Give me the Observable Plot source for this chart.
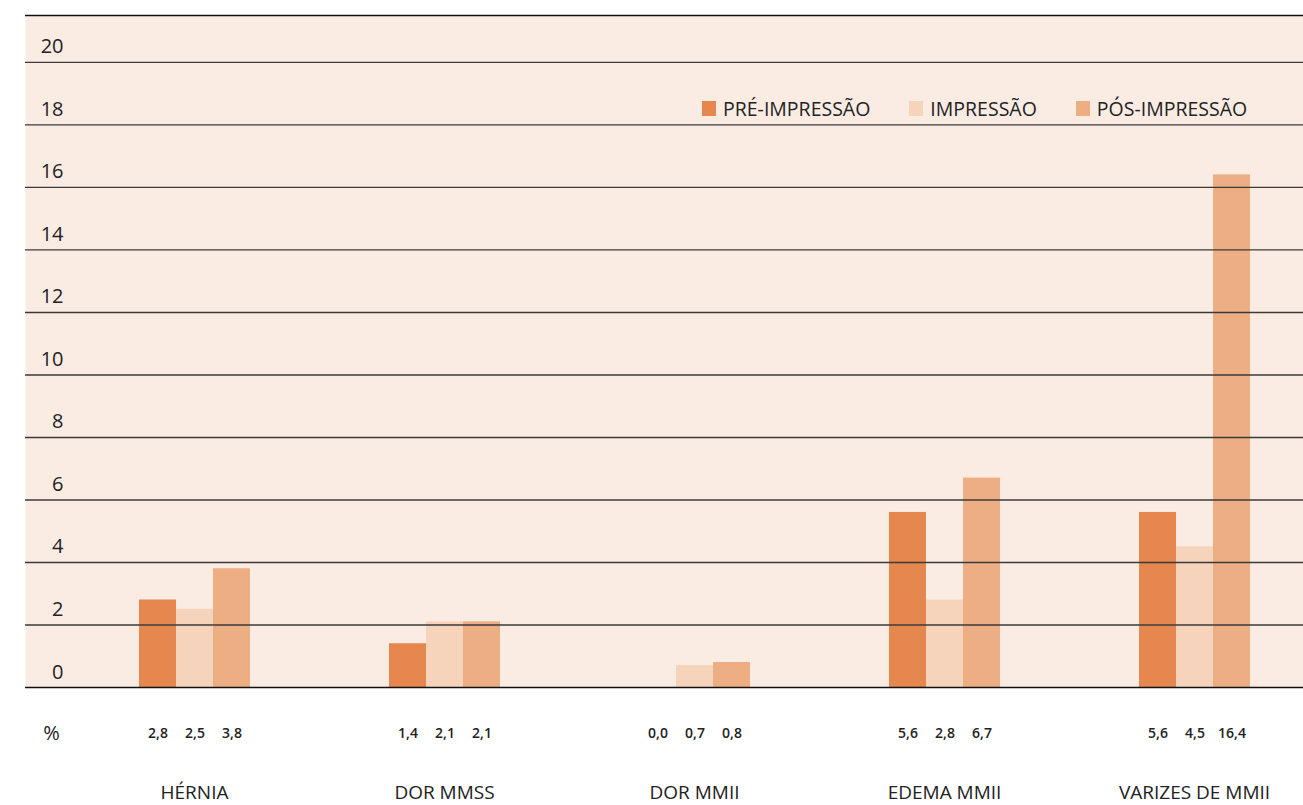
<!DOCTYPE html>
<html lang="pt">
<head>
<meta charset="utf-8">
<script src="https://cdn.jsdelivr.net/npm/d3@7"></script>
<script src="https://cdn.jsdelivr.net/npm/@observablehq/plot@0.6"></script>
<style>
  html, body { margin: 0; padding: 0; background: #ffffff; }
  #wrap { position: relative; width: 1303px; height: 805px; font-family: "Open Sans", sans-serif; }
  #wrap > svg { position: absolute; left: 0; top: 0; }
  #legend { position: absolute; top: 95px; left: 702px; display: flex; align-items: center; font-size: 19.5px; color: #222; }
  #legend .item { display: flex; align-items: center; margin-right: 39px; }
  #legend .sw { width: 14px; height: 15px; margin-right: 7px; }
</style>
</head>
<body>
<div id="wrap"></div>
<script>
// Queixas relatadas por fase (%)
const categories = ["HÉRNIA", "DOR MMSS", "DOR MMII", "EDEMA MMII", "VARIZES DE MMII"];
const phases = ["PRÉ-IMPRESSÃO", "IMPRESSÃO", "PÓS-IMPRESSÃO"];
const preImpressao = [2.8, 1.4, 0.0, 5.6, 5.6];
const impressao = [2.5, 2.1, 0.7, 2.8, 4.5];
const posImpressao = [3.8, 2.1, 0.8, 6.7, 16.4];
const yTicks = [0, 2, 4, 6, 8, 10, 12, 14, 16, 18, 20];
const colors = ["#e5874f", "#f6d3bb", "#edae84"];

const seriesValues = [preImpressao, impressao, posImpressao];
const rows = categories.flatMap((c, i) =>
  phases.map((p, j) => ({category: c, phase: p, value: seriesValues[j][i]}))
);
const fmt = v => v.toFixed(1).replace(".", ",");

// shared frame geometry for all layers
const frame = {
  width: 1303,
  height: 805,
  marginTop: 15,
  marginBottom: 118,
  marginLeft: 25,
  marginRight: 0
};
const yScale = {domain: [0, 21.5], axis: null};
const font = {fontFamily: "Open Sans, sans-serif", fontSize: "19px", color: "#222"};

// bottom layer: panel fill and value ticks
const panel = Plot.plot({
  ...frame,
  style: {...font, background: "#ffffff"},
  y: yScale,
  marks: [
    Plot.frame({fill: "#faece3", stroke: "none"}),
    Plot.text(yTicks, {
      y: d => d, text: d => String(d), frameAnchor: "left",
      dx: 38, dy: -9, textAnchor: "end", lineAnchor: "bottom", fontSize: 20, fill: "#222"
    }),
    Plot.text(["%"], {
      text: d => d, frameAnchor: "bottom-left", textAnchor: "middle",
      dx: 26, dy: 46, lineAnchor: "middle", fontSize: 20, fill: "#222"
    })
  ]
});

// middle layer: grouped bars and their labels
const bars = Plot.plot({
  ...frame,
  style: {...font, background: "transparent"},
  fx: {domain: categories, paddingInner: 0.552, paddingOuter: 0.332, align: 0.68, axis: null},
  x: {domain: phases, padding: 0, axis: null},
  y: yScale,
  color: {domain: phases, range: colors},
  marks: [
    Plot.barY(rows, {fx: "category", x: "phase", y: "value", fill: "phase"}),
    Plot.text(rows, {
      fx: "category", x: "phase", text: d => fmt(d.value), frameAnchor: "bottom",
      dy: 46, lineAnchor: "middle", fontSize: 14, fontWeight: 600, fill: "#222"
    }),
    Plot.text(categories, {
      fx: d => d, text: d => d, frameAnchor: "bottom",
      dy: 105, lineAnchor: "middle", fontSize: 19, fill: "#222"
    })
  ]
});

// top layer: horizontal rules drawn over the bars
const grid = Plot.plot({
  ...frame,
  style: {...font, background: "transparent"},
  y: yScale,
  marks: [
    Plot.ruleY(yTicks.filter(t => t > 0), {stroke: "#3a3a3a", strokeWidth: 1.4}),
    Plot.ruleY([0, 21.5], {stroke: "#111", strokeWidth: 1.5})
  ]
});

const wrap = document.getElementById("wrap");
wrap.appendChild(panel);
wrap.appendChild(bars);
wrap.appendChild(grid);

// Legenda das fases
const legend = document.createElement("div");
legend.id = "legend";
phases.forEach((p, j) => {
  const item = document.createElement("div");
  item.className = "item";
  const sw = document.createElement("span");
  sw.className = "sw";
  sw.style.background = colors[j];
  const label = document.createElement("span");
  label.textContent = p;
  item.appendChild(sw);
  item.appendChild(label);
  legend.appendChild(item);
});
wrap.appendChild(legend);
</script>
</body>
</html>
